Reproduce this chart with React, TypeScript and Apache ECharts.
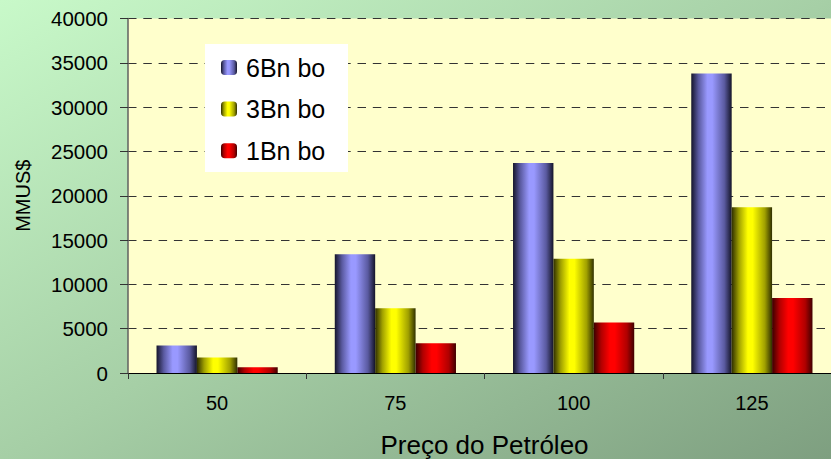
import React, { useEffect, useRef } from "react";
import * as echarts from "echarts";

const categories = ["50", "75", "100", "125"];
const seriesNames = ["6Bn bo", "3Bn bo", "1Bn bo"];
const values6Bn = [3100, 13400, 23700, 33800];
const values3Bn = [1750, 7300, 12900, 18700];
const values1Bn = [650, 3350, 5700, 8450];
const yTicks = { min: 0, max: 40000, interval: 5000 };

const FONT = "'Liberation Sans', Arial, sans-serif";

function barGradient(dark1: string, mid: string, peak: string, dark2: string) {
  return new echarts.graphic.LinearGradient(0, 0, 1, 0, [
    { offset: 0, color: dark1 },
    { offset: 0.18, color: mid },
    { offset: 0.4, color: peak },
    { offset: 0.52, color: peak },
    { offset: 0.82, color: mid },
    { offset: 1, color: dark2 },
  ]);
}

export default function App() {
  const ref = useRef<HTMLDivElement>(null);
  useEffect(() => {
    if (!ref.current) return;
    const chart = echarts.init(ref.current, null, { renderer: "svg" });
    const colors = [
      barGradient("#15152b", "#5a5aa0", "#9999ff", "#141428"),
      barGradient("#2e2e00", "#a0a000", "#ffff00", "#303000"),
      barGradient("#3a0000", "#b00000", "#ff0000", "#400000"),
    ];
    const dataSets = [values6Bn, values3Bn, values1Bn];
    chart.setOption({
      animation: false,
      backgroundColor: new echarts.graphic.LinearGradient(0, 0, 1, 1, [
        { offset: 0, color: "#c8f9c9" },
        { offset: 0.5, color: "#a6cfa6" },
        { offset: 1, color: "#7e9f80" },
      ]),
      textStyle: { fontFamily: FONT },
      grid: {
        left: 128,
        top: 18.5,
        bottom: 86,
        right: -10,
        outerBoundsMode: "none",
        containLabel: false,
        show: true,
        backgroundColor: "#ffffcc",
        borderWidth: 0,
      },
      graphic: [
        {
          type: "rect",
          left: 205,
          top: 44,
          shape: { width: 143, height: 128 },
          style: { fill: "#ffffff" },
          z: 3,
        },
      ],
      legend: {
        orient: "vertical",
        left: 221,
        top: 54.5,
        padding: 0,
        z: 10,
        itemWidth: 16,
        itemHeight: 15,
        itemGap: 15.6,
        data: seriesNames,
        textStyle: {
          fontFamily: FONT,
          fontSize: 25,
          color: "#000",
          lineHeight: 26,
          padding: [0, 0, 0, 4],
        },
      },
      xAxis: {
        type: "category",
        data: categories,
        name: "Preço do Petróleo",
        nameLocation: "middle",
        nameGap: 59,
        nameTextStyle: { fontFamily: FONT, fontSize: 26, color: "#000" },
        axisLine: { show: true, lineStyle: { color: "#000", width: 1 } },
        axisTick: { show: true, length: 6, lineStyle: { color: "#333" } },
        axisLabel: { margin: 20, fontFamily: FONT, fontSize: 20, color: "#000" },
      },
      yAxis: {
        type: "value",
        min: yTicks.min,
        max: yTicks.max,
        interval: yTicks.interval,
        name: "MMUS$",
        nameLocation: "middle",
        nameRotate: 90,
        nameGap: 95,
        nameTextStyle: { fontFamily: FONT, fontSize: 20, color: "#000" },
        axisLine: { show: true, lineStyle: { color: "#606060", width: 1.5 } },
        axisTick: { show: true, length: 8, lineStyle: { color: "#333" } },
        axisLabel: {
          margin: 20,
          fontFamily: FONT,
          fontSize: 20.5,
          color: "#000",
          formatter: (v: number) => String(v),
        },
        splitLine: {
          show: true,
          lineStyle: { color: "#333", width: 1, type: [8.5, 6.8] },
        },
      },
      series: seriesNames.map((name, i) => ({
        name,
        type: "bar",
        data: dataSets[i],
        barGap: "0%",
        barCategoryGap: "32%",
        itemStyle: { color: colors[i] },
      })),
    });
    return () => chart.dispose();
  }, []);
  return (
    <div
      ref={ref}
      style={{ position: "fixed", left: 0, top: 0, width: 831, height: 459 }}
    />
  );
}
